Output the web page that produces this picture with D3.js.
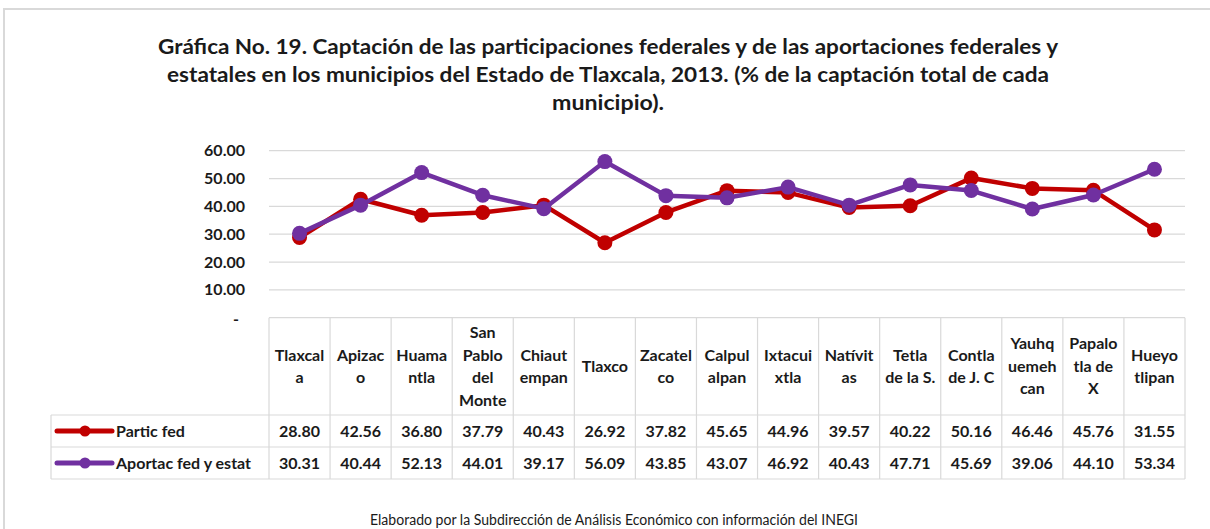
<!DOCTYPE html>
<html>
<head>
<meta charset="utf-8">
<script src="https://cdn.jsdelivr.net/npm/d3@7"></script>
<style>
  html, body { margin: 0; padding: 0; background: #fff; }
  svg { display: block; }
  text { font-family: Lato, "Open Sans", sans-serif; fill: #1a1a1a; }
</style>
</head>
<body>
<svg id="chart" width="1210" height="529"></svg>
<script>
// ---- data ----
const categories = [
  "Tlaxcal\na", "Apizac\no", "Huama\nntla", "San\nPablo\ndel\nMonte", "Chiaut\nempan",
  "Tlaxco", "Zacatel\nco", "Calpul\nalpan", "Ixtacui\nxtla", "Natívit\nas",
  "Tetla\nde la S.", "Contla\nde J. C", "Yauhq\nuemeh\ncan", "Papalo\ntla de\nX", "Hueyo\ntlipan"
];
const particFed = [28.80, 42.56, 36.80, 37.79, 40.43, 26.92, 37.82, 45.65, 44.96, 39.57, 40.22, 50.16, 46.46, 45.76, 31.55];
const aportacFedEstat = [30.31, 40.44, 52.13, 44.01, 39.17, 56.09, 43.85, 43.07, 46.92, 40.43, 47.71, 45.69, 39.06, 44.10, 53.34];
const seriesNames = ["Partic fed", "Aportac fed y estat"];
const seriesColors = ["#C00000", "#7030A0"];
const yTicks = [0, 10, 20, 30, 40, 50, 60];
const titleLines = [
  "Gráfica No. 19. Captación de las participaciones federales y de las aportaciones federales y",
  "estatales en los municipios del Estado de Tlaxcala, 2013. (% de la captación total de cada",
  "municipio)."
];
const footer = "Elaborado por la Subdirección de Análisis Económico con información del INEGI";

// ---- layout ----
const svg = d3.select("#chart");
const gridColor = "#d9d9d9";
const plotLeft = 269, plotRight = 1185, plotTop = 150.7, zeroY = 317.7;
const headerBottom = 415, row1Bottom = 447, row2Bottom = 479, legendLeft = 51;
const fs = 16;

// outer frame
svg.append("rect").attr("x", 4).attr("y", 9).attr("width", 1230).attr("height", 560)
  .attr("fill", "none").attr("stroke", gridColor).attr("stroke-width", 2);

// title
const tWidths = [900, 882, 112];
const tY = [54, 82, 110];
titleLines.forEach((t, i) => {
  svg.append("text").attr("x", 608).attr("y", tY[i]).attr("text-anchor", "middle")
    .attr("font-size", 20.5).attr("font-weight", 700).text(t)
    .attr("textLength", tWidths[i]).attr("lengthAdjust", "spacingAndGlyphs");
});

const x = d3.scaleBand().domain(categories).range([plotLeft, plotRight]);
const y = d3.scaleLinear().domain([0, 60]).range([zeroY, plotTop]);

// gridlines
svg.append("g").selectAll("line").data(yTicks.filter(d => d > 0)).join("line")
  .attr("x1", plotLeft).attr("x2", plotRight).attr("y1", d => y(d)).attr("y2", d => y(d))
  .attr("stroke", gridColor).attr("stroke-width", 1.2);

// y axis
const yAxis = svg.append("g").attr("transform", `translate(${plotLeft},0)`)
  .call(d3.axisLeft(y).tickValues(yTicks).tickSize(0).tickPadding(24)
    .tickFormat(d => d === 0 ? "-" : d3.format(".2f")(d)));
yAxis.select(".domain").remove();
yAxis.selectAll("text").attr("font-family", "Lato, sans-serif").attr("font-size", fs)
  .attr("font-weight", 700).attr("fill", "#262626")
  .attr("dx", d => d === 0 ? -6 : 0).attr("dy", d => d === 0 ? "0.4em" : "0.32em");

// table lines
const tbl = svg.append("g").attr("stroke", gridColor).attr("stroke-width", 1.2);
tbl.append("line").attr("x1", plotLeft).attr("x2", plotRight).attr("y1", zeroY).attr("y2", zeroY);
[headerBottom, row1Bottom, row2Bottom].forEach(yy =>
  tbl.append("line").attr("x1", legendLeft).attr("x2", plotRight).attr("y1", yy).attr("y2", yy));
tbl.append("line").attr("x1", legendLeft).attr("x2", legendLeft).attr("y1", headerBottom).attr("y2", row2Bottom);
categories.forEach(c => tbl.append("line").attr("x1", x(c)).attr("x2", x(c)).attr("y1", zeroY).attr("y2", row2Bottom));
tbl.append("line").attr("x1", plotRight).attr("x2", plotRight).attr("y1", zeroY).attr("y2", row2Bottom);

// header labels
const lineH = 22.5;
const headerMid = (zeroY + headerBottom) / 2;
categories.forEach(c => {
  const lines = c.split("\n");
  const t = svg.append("text").attr("text-anchor", "middle").attr("font-size", fs).attr("font-weight", 700);
  lines.forEach((ln, i) => {
    t.append("tspan").attr("x", x(c) + x.bandwidth() / 2)
      .attr("y", headerMid + (i - (lines.length - 1) / 2) * lineH).attr("dy", "0.35em").text(ln);
  });
});

// rows
const seriesData = [particFed, aportacFedEstat];
const rowMids = [(headerBottom + row1Bottom) / 2, (row1Bottom + row2Bottom) / 2];
seriesData.forEach((vals, si) => {
  const ym = rowMids[si];
  svg.append("line").attr("x1", 57).attr("x2", 112).attr("y1", ym).attr("y2", ym)
    .attr("stroke", seriesColors[si]).attr("stroke-width", 5).attr("stroke-linecap", "round");
  svg.append("circle").attr("cx", 85).attr("cy", ym).attr("r", 5.5).attr("fill", seriesColors[si]);
  svg.append("text").attr("x", 116).attr("y", ym).attr("dy", "0.35em")
    .attr("font-size", fs).attr("font-weight", 700).text(seriesNames[si]);
  svg.append("g").selectAll("text").data(vals).join("text")
    .attr("x", (d, i) => x(categories[i]) + x.bandwidth() / 2).attr("y", ym).attr("dy", "0.35em")
    .attr("text-anchor", "middle").attr("font-size", fs).attr("font-weight", 700)
    .text(d => d3.format(".2f")(d));
});

// lines + markers
const line = d3.line().x((d, i) => x(categories[i]) + x.bandwidth() / 2).y(d => y(d));
seriesData.forEach((vals, si) => {
  const g = svg.append("g");
  g.append("path").datum(vals).attr("d", line).attr("fill", "none")
    .attr("stroke", seriesColors[si]).attr("stroke-width", 4.5).attr("stroke-linejoin", "round");
  g.selectAll("circle").data(vals).join("circle")
    .attr("cx", (d, i) => x(categories[i]) + x.bandwidth() / 2).attr("cy", d => y(d))
    .attr("r", 7.5).attr("fill", seriesColors[si]);
});

// footer
svg.append("text").attr("x", 370).attr("y", 525).attr("font-size", 14.5)
  .attr("textLength", 488).attr("lengthAdjust", "spacingAndGlyphs").text(footer);
</script>
</body>
</html>
